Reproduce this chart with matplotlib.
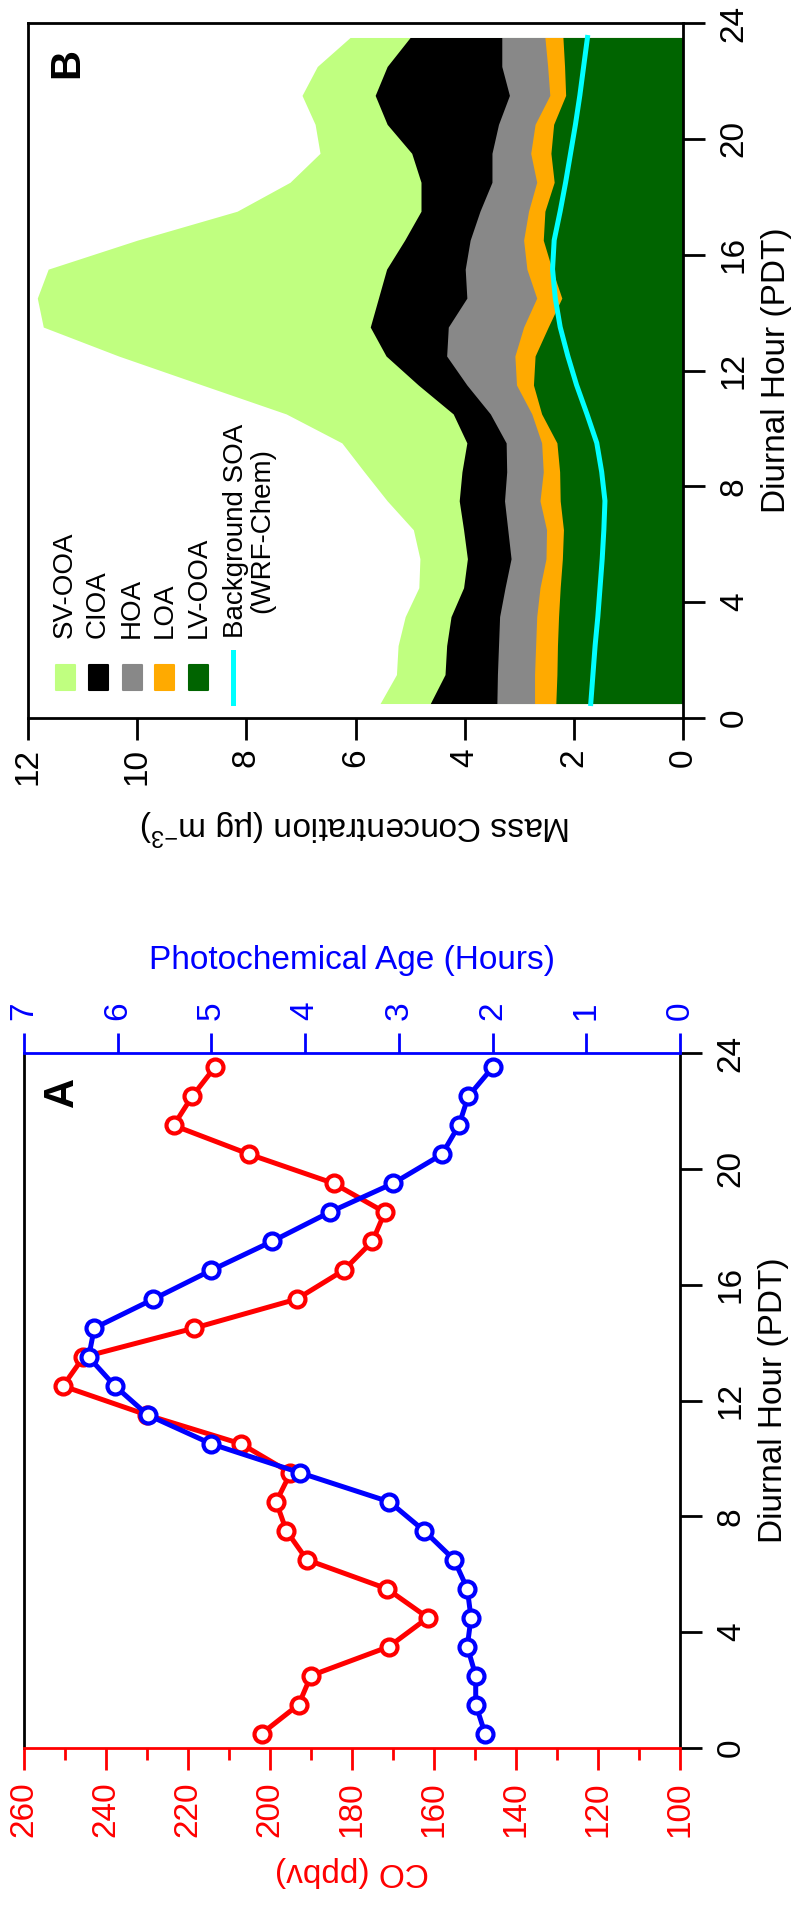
import numpy as np
import matplotlib
matplotlib.use('Agg')
import matplotlib.pyplot as plt
from matplotlib.patches import Rectangle

plt.rcParams['font.family'] = ['Liberation Sans', 'DejaVu Sans']
plt.rcParams['mathtext.fontset'] = 'custom'
plt.rcParams['mathtext.rm'] = 'Liberation Sans'
plt.rcParams['mathtext.it'] = 'Liberation Sans:italic'
plt.rcParams['mathtext.default'] = 'regular'

# diurnal hour (bin centres)
hours = [0.5, 1.5, 2.5, 3.5, 4.5, 5.5, 6.5, 7.5, 8.5, 9.5, 10.5, 11.5,
         12.5, 13.5, 14.5, 15.5, 16.5, 17.5, 18.5, 19.5, 20.5, 21.5, 22.5, 23.5]

# panel A
co_ppbv = [202, 193, 190, 171, 161.5, 171.5, 191, 196, 198.5, 195, 207, 230,
           250.5, 245.5, 218.5, 193.5, 182, 175, 172, 184.5, 205, 223.5, 219, 213.5]
photo_age = [2.08, 2.18, 2.18, 2.27, 2.23, 2.27, 2.41, 2.73, 3.10, 4.05, 5.00, 5.68,
             6.03, 6.31, 6.25, 5.62, 5.00, 4.35, 3.74, 3.06, 2.54, 2.36, 2.26, 2.00]

# panel B (ug m-3), stacked from the bottom
lv_ooa = [2.33, 2.31, 2.30, 2.28, 2.25, 2.21, 2.19, 2.25, 2.26, 2.31, 2.59, 2.74,
          2.71, 2.47, 2.22, 2.40, 2.56, 2.53, 2.36, 2.42, 2.37, 2.15, 2.17, 2.20]
loa = [0.39, 0.41, 0.40, 0.40, 0.37, 0.30, 0.31, 0.37, 0.30, 0.28, 0.18, 0.31,
       0.37, 0.45, 0.46, 0.46, 0.36, 0.30, 0.32, 0.37, 0.34, 0.29, 0.31, 0.33]
hoa = [0.69, 0.68, 0.68, 0.68, 0.64, 0.64, 0.71, 0.65, 0.67, 0.65, 0.76, 0.91,
       1.25, 1.38, 1.28, 1.13, 0.98, 0.89, 0.82, 0.71, 0.67, 0.74, 0.84, 0.79]
cioa = [1.22, 0.96, 0.95, 0.89, 0.76, 0.80, 0.81, 0.83, 0.82, 0.72, 0.68, 0.89,
        1.11, 1.43, 1.62, 1.44, 1.20, 1.08, 1.30, 1.47, 2.04, 2.46, 2.10, 1.68]
sv_ooa = [0.92, 0.89, 0.89, 0.84, 0.82, 0.87, 0.92, 1.32, 1.79, 2.29, 3.06, 3.96,
          4.90, 5.99, 6.25, 6.20, 4.90, 3.37, 2.40, 1.68, 1.32, 1.34, 1.28, 1.10]
bg_soa = [1.69, 1.65, 1.61, 1.56, 1.52, 1.48, 1.45, 1.43, 1.49, 1.58, 1.76, 1.95,
          2.11, 2.25, 2.34, 2.39, 2.36, 2.25, 2.15, 2.06, 1.97, 1.89, 1.82, 1.75]

species = ['SV-OOA', 'CIOA', 'HOA', 'LOA', 'LV-OOA']
colors = ['#c0ff80', '#000000', '#888888', '#ffaa00', '#006400']

fig = plt.figure(figsize=(8.01, 19.11), dpi=100)
W, H = 801, 1911
axA = fig.add_axes([24 / W, (H - 1748) / H, 656 / W, 695 / H])
axB = fig.add_axes([28 / W, (H - 718) / H, 655 / W, 695 / H])

TL = 15.8
LW = 2.0
FS = 24
LFS = 24

# ---------------- panel A ----------------
axA.plot(co_ppbv, hours, color='red', lw=3.6, marker='o', ms=11.5,
         mfc='white', mec='red', mew=3, clip_on=False, zorder=3)
axA.set_xlim(260, 100)
axA.set_ylim(0, 24)
axA.set_xticks(range(100, 261, 20))
axA.set_xticks(range(110, 260, 20), minor=True)
axA.set_yticks(range(0, 25, 4))
axA.yaxis.tick_right()
axA.yaxis.set_label_position('right')
axA.tick_params(axis='x', which='major', colors='red', length=TL, width=LW,
                labelsize=FS, labelrotation=90, pad=8)
axA.tick_params(axis='x', which='minor', colors='red', length=8.6, width=LW)
axA.tick_params(axis='y', length=TL, width=LW, labelsize=FS, labelrotation=90, pad=10)
for lbl in axA.get_yticklabels():
    lbl.set_va('center')
axA.spines['top'].set_visible(False)
axA.spines['bottom'].set_color('red')
for s in axA.spines.values():
    s.set_linewidth(LW)
axA.set_xlabel('CO (ppbv)', color='red', fontsize=LFS, rotation=180, labelpad=14)
axA.set_ylabel('Diurnal Hour (PDT)', fontsize=LFS, rotation=90, labelpad=8)

axA2 = axA.twiny()
axA2.plot(photo_age, hours, color='blue', lw=3.6, marker='o', ms=11.5,
          mfc='white', mec='blue', mew=3, clip_on=False, zorder=3)
axA2.set_xlim(7, 0)
axA2.set_xticks(range(0, 8))
axA2.tick_params(axis='x', colors='blue', length=14.4, width=LW,
                 labelsize=FS, labelrotation=90, pad=9)
for side in ['bottom', 'left', 'right']:
    axA2.spines[side].set_visible(False)
axA2.spines['top'].set_color('blue')
axA2.spines['top'].set_linewidth(LW)
axA2.set_xlabel('Photochemical Age (Hours)', color='blue', fontsize=LFS, labelpad=24)

axA.text(0.058, 0.944, 'A', transform=axA.transAxes, rotation=90, fontsize=30,
         fontweight='bold', ha='center', va='center')

# ---------------- panel B ----------------
layers = [sv_ooa, cioa, hoa, loa, lv_ooa]
stack = np.cumsum(np.array(layers[::-1]), axis=0)[::-1]
for top, c in zip(stack, colors):
    axB.fill_betweenx(hours, 0, top, color=c, lw=0)
axB.plot(bg_soa, hours, color='#00ffff', lw=3.6)
axB.set_xlim(12, 0)
axB.set_ylim(0, 24)
axB.set_xticks(range(0, 13, 2))
axB.set_yticks(range(0, 25, 4))
axB.yaxis.tick_right()
axB.yaxis.set_label_position('right')
axB.tick_params(axis='x', length=TL, width=LW, labelsize=FS, labelrotation=90, pad=6)
axB.tick_params(axis='y', length=TL, width=LW, labelsize=FS, labelrotation=90, pad=10)
for lbl in axB.get_yticklabels():
    lbl.set_va('center')
for s in axB.spines.values():
    s.set_linewidth(LW)
axB.set_xlabel('Mass Concentration (µg m$^{-3}$)', fontsize=LFS, rotation=180, labelpad=15)
axB.set_ylabel('Diurnal Hour (PDT)', fontsize=LFS, rotation=90, labelpad=8)

axB.text(0.06, 0.942, 'B', transform=axB.transAxes, rotation=90, fontsize=30,
         fontweight='bold', ha='center', va='center')

# legend, drawn rotated like the rest of the figure
col_x = [0.0565, 0.107, 0.159, 0.209, 0.26]
for name, c, x in zip(species, colors, col_x):
    axB.add_patch(Rectangle((x - 0.0145, 0.0403), 0.029, 0.036, transform=axB.transAxes,
                            facecolor=c, edgecolor=c, lw=1.5, joinstyle='round'))
    axB.text(x, 0.115, name, transform=axB.transAxes, rotation=90, fontsize=20,
             ha='center', va='bottom')
axB.plot([0.313, 0.313], [0.0216, 0.095], transform=axB.transAxes, color='#00ffff', lw=3.6)
axB.text(0.338, 0.115, 'Background SOA\n(WRF-Chem)', transform=axB.transAxes, rotation=90,
         fontsize=20, ha='center', va='bottom', linespacing=1.0)

fig.savefig('out.png', dpi=100)
